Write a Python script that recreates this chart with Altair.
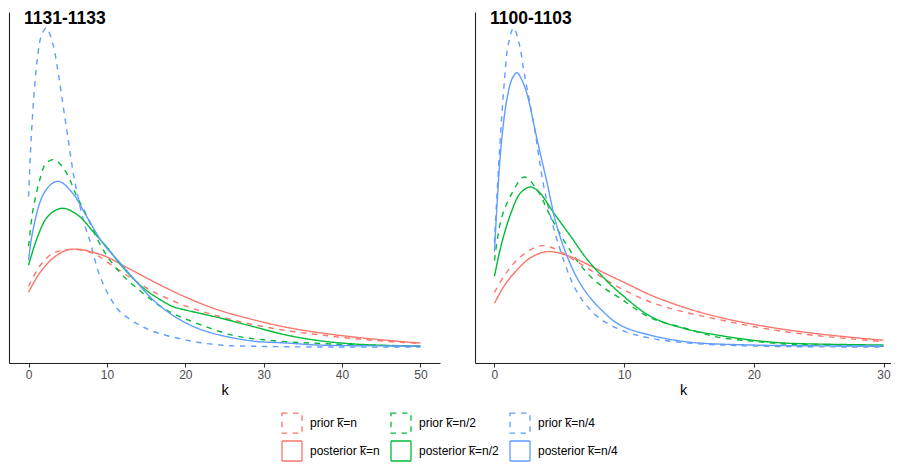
import altair as alt
import pandas as pd

# ---------------- data ----------------
series_names = ["prior k\u0305=n", "prior k\u0305=n/2", "prior k\u0305=n/4",
                "posterior k\u0305=n", "posterior k\u0305=n/2", "posterior k\u0305=n/4"]
series_colors = ["#F8766D", "#00BA38", "#619CFF", "#F8766D", "#00BA38", "#619CFF"]
series_dashes = [[5.5, 5.5], [5.5, 5.5], [5.5, 5.5], [1, 0], [1, 0], [1, 0]]
panel_titles = ["1131-1133", "1100-1103"]
p1_ticks = [0, 10, 20, 30, 40, 50]
p2_ticks = [0, 10, 20, 30]

# panel 1 (1131-1133)
p1_prior_n_k = [0, 1.4, 3.1, 5.6, 8.2, 10.8, 13.3, 15.8, 20.1, 24.4, 28.6, 32.9, 37.1, 41.3, 45.6, 50]
p1_prior_n_y = [0.031, 0.041, 0.0475, 0.0495, 0.0475, 0.041, 0.0345, 0.0285, 0.021, 0.0158, 0.0118, 0.0088, 0.0066, 0.0048, 0.0034, 0.0023]
p1_prior_n2_k = [0, 0.55, 1.4, 2.2, 3.3, 4.3, 5.2, 6.1, 7.4, 9.06, 10.3, 12, 14.6, 17.6, 20.1, 26, 30.3, 38.8, 50]
p1_prior_n2_y = [0.051, 0.069, 0.084, 0.0925, 0.0945, 0.091, 0.085, 0.0765, 0.0665, 0.0525, 0.0445, 0.0365, 0.0275, 0.019, 0.0145, 0.0065, 0.004, 0.002, 0.001]
p1_prior_n4_k = [0, 0.34, 0.77, 1.19, 1.62, 2.26, 3.1, 3.74, 4.37, 5.0, 5.65, 6.29, 7.1, 7.8, 9.06, 10.3, 11.6, 13.7, 15.8, 20.1, 24.4, 30, 40, 50]
p1_prior_n4_y = [0.076, 0.106, 0.131, 0.1475, 0.1565, 0.1605, 0.1525, 0.139, 0.1225, 0.106, 0.089, 0.076, 0.0625, 0.054, 0.0365, 0.026, 0.0185, 0.0125, 0.0085, 0.004, 0.0015, 0.0008, 0.0005, 0.0005]
p1_post_n_k = [0, 1.4, 3.1, 4.8, 6.5, 8.2, 9.9, 13.3, 16.7, 19.9, 23.9, 29.9, 34.0, 38.8, 44.0, 50]
p1_post_n_y = [0.028, 0.0375, 0.045, 0.049, 0.0495, 0.048, 0.0458, 0.0388, 0.0318, 0.0258, 0.0195, 0.013, 0.0096, 0.0068, 0.0045, 0.0025]
p1_post_n2_k = [0, 0.98, 2.25, 3.4, 4.6, 6.5, 8.2, 9.9, 11.6, 13.3, 15, 16.7, 18.4, 20.1, 22.2, 24.4, 28.6, 32.9, 37.1, 41.3, 45.6, 50]
p1_post_n2_y = [0.0415, 0.054, 0.065, 0.069, 0.07, 0.066, 0.0585, 0.051, 0.0425, 0.035, 0.029, 0.0245, 0.0208, 0.019, 0.0171, 0.0151, 0.0108, 0.0065, 0.0037, 0.0021, 0.0013, 0.0009]
p1_post_n4_k = [0, 0.55, 1.8, 3.0, 3.95, 5.65, 7.4, 9.5, 11.6, 13.8, 15.8, 18, 20.1, 22.2, 24.4, 28.6, 33, 37, 50]
p1_post_n4_y = [0.044, 0.059, 0.0765, 0.0825, 0.0835, 0.0775, 0.066, 0.0525, 0.043, 0.033, 0.0245, 0.0175, 0.0125, 0.009, 0.0065, 0.0035, 0.0025, 0.0015, 0.001]

# panel 2 (1100-1103)
p2_prior_n_k = [0, 0.77, 1.77, 2.8, 3.7, 4.8, 6.1, 7.7, 9.6, 12.1, 14.7, 17.2, 19.8, 22.4, 24.9, 27.5, 30]
p2_prior_n_y = [0.0275, 0.036, 0.044, 0.049, 0.051, 0.049, 0.044, 0.0375, 0.03, 0.0225, 0.0175, 0.014, 0.0105, 0.0077, 0.0057, 0.0041, 0.0027]
p2_prior_n2_k = [0, 0.51, 1.28, 2.3, 3.3, 4.3, 5.6, 6.9, 8.2, 9.7, 12.1, 14.7, 17.2, 19.8, 22.4, 24.9, 30]
p2_prior_n2_y = [0.0435, 0.064, 0.0765, 0.0855, 0.079, 0.066, 0.051, 0.039, 0.031, 0.0245, 0.0145, 0.0095, 0.005, 0.003, 0.0015, 0.001, 0.0005]
p2_prior_n4_k = [0, 0.38, 0.77, 1.07, 1.48, 1.91, 2.3, 3.06, 3.8, 4.6, 5.4, 6.1, 6.9, 8.2, 10, 12, 15, 20, 30]
p2_prior_n4_y = [0.0525, 0.0975, 0.134, 0.1525, 0.1605, 0.1525, 0.1375, 0.111, 0.081, 0.059, 0.0425, 0.031, 0.0225, 0.014, 0.008, 0.0045, 0.002, 0.0005, 0.0]
p2_post_n_k = [0, 0.77, 1.77, 2.8, 4.06, 5.4, 6.9, 8.4, 10, 12.1, 14.7, 17.2, 19.8, 22.4, 24.9, 27.5, 30]
p2_post_n_y = [0.022, 0.031, 0.039, 0.045, 0.048, 0.0465, 0.0425, 0.0375, 0.0325, 0.026, 0.0198, 0.0152, 0.0116, 0.0088, 0.0067, 0.0049, 0.0034]
p2_post_n2_k = [0, 0.51, 1.28, 2.0, 2.7, 3.1, 3.6, 4.6, 5.9, 7.1, 8.4, 9.7, 12.1, 14.7, 17.2, 19.8, 22.4, 24.9, 30]
p2_post_n2_y = [0.0355, 0.051, 0.0675, 0.0775, 0.0805, 0.0798, 0.0768, 0.0672, 0.0555, 0.0445, 0.035, 0.027, 0.0152, 0.0092, 0.006, 0.0035, 0.002, 0.0015, 0.001]
p2_post_n4_k = [0, 0.51, 1.0, 1.4, 1.74, 2.1, 2.5, 3.3, 4.06, 4.8, 5.9, 6.9, 8.2, 9.7, 12, 15, 20, 30]
p2_post_n4_y = [0.048, 0.101, 0.126, 0.1355, 0.138, 0.1345, 0.1275, 0.104, 0.0825, 0.061, 0.041, 0.029, 0.019, 0.011, 0.006, 0.0025, 0.001, 0.0005]

p1_series = [(p1_prior_n_k, p1_prior_n_y), (p1_prior_n2_k, p1_prior_n2_y), (p1_prior_n4_k, p1_prior_n4_y),
             (p1_post_n_k, p1_post_n_y), (p1_post_n2_k, p1_post_n2_y), (p1_post_n4_k, p1_post_n4_y)]
p2_series = [(p2_prior_n_k, p2_prior_n_y), (p2_prior_n2_k, p2_prior_n2_y), (p2_prior_n4_k, p2_prior_n4_y),
             (p2_post_n_k, p2_post_n_y), (p2_post_n2_k, p2_post_n2_y), (p2_post_n4_k, p2_post_n4_y)]


def build_frame(series):
    rows = []
    for name, (ks, ys) in zip(series_names, series):
        for k, y in zip(ks, ys):
            rows.append({"series": name, "k": k, "y": y})
    return pd.DataFrame(rows)


FONT = "Liberation Sans"
PANEL_H = 351

color_scale = alt.Scale(domain=series_names, range=series_colors)
dash_scale = alt.Scale(domain=series_names, range=series_dashes)
legend = alt.Legend(
    title=None, orient="none", legendX=272, legendY=400, columns=3, direction="horizontal",
    symbolType="square", symbolSize=400, symbolStrokeWidth=1.3,
    symbolFillColor="transparent", labelFont=FONT, labelFontSize=12,
    labelColor="black", labelOffset=7, columnPadding=8, rowPadding=2,
    labelLimit=200,
)


def panel(df, title, ticks, full_width, shown_width):
    kmin, kmax = df["k"].min(), df["k"].max()
    kpad = 0.05 * (kmax - kmin)
    per_px = (kmax - kmin + 2 * kpad) / full_width
    x_domain = [kmin - kpad, kmin - kpad + shown_width * per_px]
    ymin, ymax = df["y"].min(), df["y"].max()
    ypad = 0.05 * (ymax - ymin)
    lines = alt.Chart(df).mark_line(strokeWidth=1.4, interpolate="catmull-rom").encode(
        x=alt.X("k:Q", scale=alt.Scale(domain=x_domain, nice=False, zero=False),
                axis=alt.Axis(values=ticks, title="k", grid=False, format="d")),
        y=alt.Y("y:Q", scale=alt.Scale(domain=[ymin - ypad, ymax + ypad], nice=False, zero=False),
                axis=alt.Axis(ticks=False, labels=False, title=None, grid=False)),
        color=alt.Color("series:N", scale=color_scale, legend=legend),
        strokeDash=alt.StrokeDash("series:N", scale=dash_scale, legend=legend),
    )
    label = alt.Chart(pd.DataFrame({"t": [title]})).mark_text(
        align="left", baseline="top", font=FONT, fontSize=17.5, fontWeight="bold", color="black"
    ).encode(x=alt.value(15), y=alt.value(-2), text="t:N")
    return alt.layer(lines, label).properties(width=shown_width, height=PANEL_H)


left = panel(build_frame(p1_series), panel_titles[0], p1_ticks, 431, 431)
right = panel(build_frame(p2_series), panel_titles[1], p2_ticks, 428, 416)

chart = alt.hconcat(left, right, spacing=35).resolve_scale(
    x="independent", y="independent"
).properties(
    padding={"left": 1, "top": 2, "right": 0, "bottom": 0}
).configure_view(strokeWidth=0).configure_axis(
    domainColor="#222222", domainWidth=1.1, tickColor="#333333", tickWidth=1.1,
    tickSize=4, labelColor="#4D4D4D", labelFont=FONT, labelFontSize=12,
    labelPadding=2, titleFont=FONT, titleFontSize=14.5, titleFontWeight="normal",
    titleColor="black", titlePadding=3,
)

chart.save("out.html", embed_options={"renderer": "svg", "actions": False})
